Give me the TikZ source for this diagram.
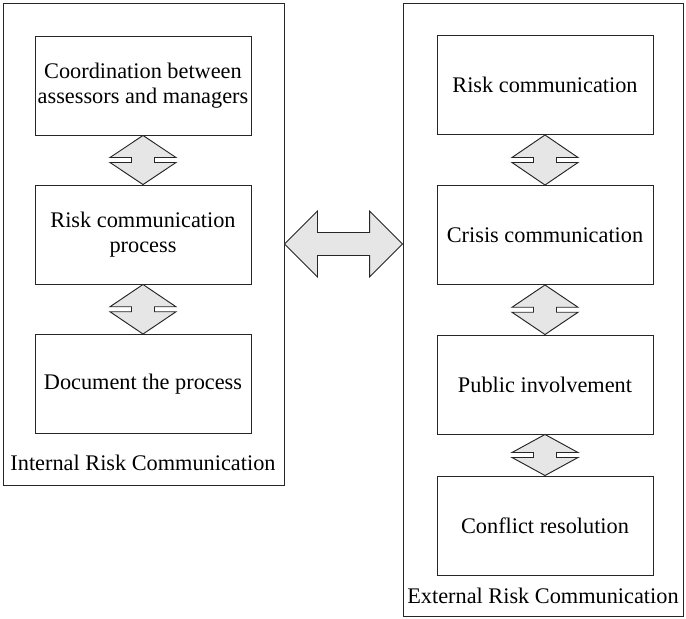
\documentclass[tikz,border=0pt]{standalone}
\usepackage{fontspec}
\setmainfont{Liberation Serif}
\usetikzlibrary{calc}
\definecolor{arrowgrey}{HTML}{E6E6E6}
\definecolor{lineink}{HTML}{262626}
\tikzset{
  frame/.style={draw=lineink, line width=0.95pt, inner sep=0pt},
  stagebox/.style={frame, minimum width=216pt, minimum height=99pt, align=center,
    font=\fontsize{22.3}{25.5}\selectfont},
  caption/.style={font=\fontsize{22.3}{25.5}\selectfont, inner sep=0pt},
  linkarrow/.style={draw=lineink, line width=0.95pt, fill=arrowgrey, line join=miter},
}
% vertical two-headed link between the bottom of #1 and the top of #2
\newcommand\vlink[2]{%
  \draw[linkarrow] let \p1=(#1.south), \p2=(#2.north), \n1={(\y1-\y2-5pt)/2} in
    (\p1) -- ++(33pt,-\n1) -- ++(-21.5pt,0pt) -- ++(0pt,-5pt) -- ++(21.5pt,0pt)
    -- (\p2) -- ++(-33pt,\n1) -- ++(21.5pt,0pt) -- ++(0pt,5pt) -- ++(-21.5pt,0pt) -- cycle;}
\begin{document}
\begin{tikzpicture}[x=1pt,y=-1pt]
  \useasboundingbox (0,0) rectangle (686,619);

  % internal communication group
  \node[frame, minimum width=281pt, minimum height=482pt] (intgrp) at (143.5,244) {};
  \node[stagebox] (coord) at (143,85.5) {Coordination between\\assessors and managers};
  \node[stagebox] (process) at (143,234.5) {Risk communication\\process};
  \node[stagebox] (document) at (143,384) {Document the process};
  \node[caption] (intlabel) at (143,463) {Internal Risk Communication};

  % external communication group
  \node[frame, minimum width=280pt, minimum height=613pt] (extgrp) at (543,309.5) {};
  \node[stagebox] (riskcom) at (545,85) {Risk communication};
  \node[stagebox] (crisis) at (545,235) {Crisis communication};
  \node[stagebox] (public) at (545,384.5) {Public involvement};
  \node[stagebox] (conflict) at (545,525.5) {Conflict resolution};
  \node[caption] (extlabel) at (543,596) {External Risk Communication};

  % links inside the groups
  \vlink{coord}{process}
  \vlink{process}{document}
  \vlink{riskcom}{crisis}
  \vlink{crisis}{public}
  \vlink{public}{conflict}

  % link between the two groups
  \coordinate (hl) at (intgrp.east);
  \coordinate (hr) at (intgrp.east -| extgrp.west);
  \draw[linkarrow] let \p1=(hl), \p2=(hr), \n1={\x2-\x1-66pt} in
    (\p1) -- ++(33pt,33pt) -- ++(0pt,-21.5pt) -- ++(\n1,0pt) -- ++(0pt,21.5pt)
    -- (\p2) -- ++(-33pt,-33pt) -- ++(0pt,21.5pt) -- ++(-\n1,0pt) -- ++(0pt,-21.5pt) -- cycle;
\end{tikzpicture}
\end{document}
